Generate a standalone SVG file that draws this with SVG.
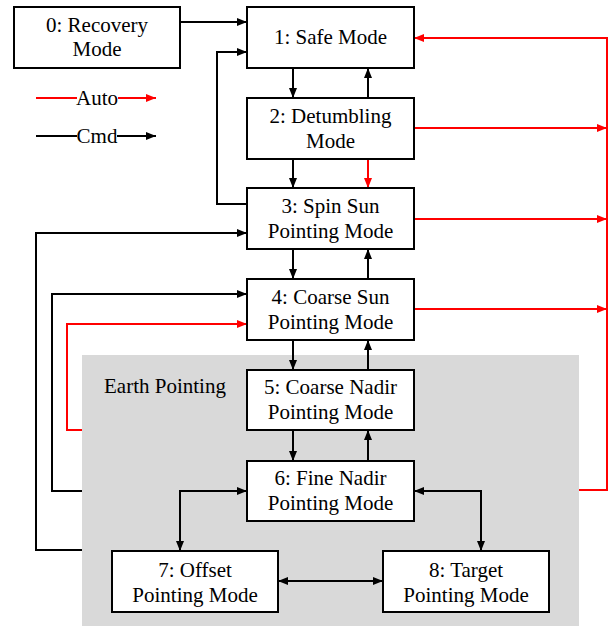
<svg xmlns="http://www.w3.org/2000/svg" width="614" height="626" viewBox="0 0 614 626">
<style>
.box{fill:#fff;stroke:#000;stroke-width:2}
.t{font-family:'Liberation Serif','Times New Roman','DejaVu Serif',serif;font-size:21px;fill:#000;text-anchor:middle}
.k{fill:none;stroke:#000;stroke-width:2}
.r{fill:none;stroke:#f00;stroke-width:2}
</style>
<defs>
<marker id="ak" viewBox="0 0 10 8" refX="10" refY="4" markerWidth="10" markerHeight="8" markerUnits="userSpaceOnUse" orient="auto-start-reverse"><path d="M0,0 L10,4 L0,8 z" fill="#000"/></marker>
<marker id="ar" viewBox="0 0 10 8" refX="10" refY="4" markerWidth="10" markerHeight="8" markerUnits="userSpaceOnUse" orient="auto-start-reverse"><path d="M0,0 L10,4 L0,8 z" fill="#f00"/></marker>
</defs>
<rect width="614" height="626" fill="#fff"/>
<g id="earth-pointing">
<rect x="82" y="355" width="497" height="271" fill="#d9d9d9"/>
<text x="104" y="393" class="t" font-family="Liberation Serif, serif" style="text-anchor:start">Earth Pointing</text>
</g>
<g id="connectors">
<path class="k" d="M180,22 H247" marker-end="url(#ak)"/>
<path class="k" d="M247,204 H217 V52 H247" marker-end="url(#ak)"/>
<path class="k" d="M293,68 V98" marker-end="url(#ak)"/>
<path class="k" d="M368,98 V68" marker-end="url(#ak)"/>
<path class="k" d="M293,159 V188" marker-end="url(#ak)"/>
<path class="r" d="M368,159 V188" marker-end="url(#ar)"/>
<path class="k" d="M293,249 V279" marker-end="url(#ak)"/>
<path class="k" d="M368,279 V249" marker-end="url(#ak)"/>
<path class="k" d="M293,340 V370" marker-end="url(#ak)"/>
<path class="k" d="M368,370 V340" marker-end="url(#ak)"/>
<path class="k" d="M293,430 V461" marker-end="url(#ak)"/>
<path class="k" d="M368,461 V430" marker-end="url(#ak)"/>
<path class="r" d="M579,490 H607 V38 H414" marker-end="url(#ar)"/>
<path class="r" d="M414,128 H607" marker-end="url(#ar)"/>
<path class="r" d="M414,219 H607" marker-end="url(#ar)"/>
<path class="r" d="M414,309 H607" marker-end="url(#ar)"/>
<path class="k" d="M82,550 H36 V233 H247" marker-end="url(#ak)"/>
<path class="k" d="M82,491 H52 V294 H247" marker-end="url(#ak)"/>
<path class="r" d="M82,430 H67 V324 H247" marker-end="url(#ar)"/>
<path class="k" d="M247,491 H180 V551" marker-start="url(#ak)" marker-end="url(#ak)"/>
<path class="k" d="M414,491 H481 V551" marker-start="url(#ak)" marker-end="url(#ak)"/>
<path class="k" d="M278,581 H383" marker-start="url(#ak)" marker-end="url(#ak)"/>
</g>
<g id="legend">
<path class="r" d="M36,98 H77"/>
<path class="r" d="M118,98 H156" marker-end="url(#ar)"/>
<text x="97" y="105" class="t">Auto</text>
<path class="k" d="M36,136 H77"/>
<path class="k" d="M117,136 H156" marker-end="url(#ak)"/>
<text x="97" y="143" class="t">Cmd</text>
</g>
<g id="n0"><rect class="box" x="14" y="7" width="166" height="61"/><text class="t" x="97" y="32">0: Recovery</text><text class="t" x="97" y="56">Mode</text></g>
<g id="n1"><rect class="box" x="247" y="7" width="167" height="61"/><text class="t" x="330.5" y="44">1: Safe Mode</text></g>
<g id="n2"><rect class="box" x="247" y="98" width="167" height="61"/><text class="t" x="330.5" y="123">2: Detumbling</text><text class="t" x="330.5" y="148">Mode</text></g>
<g id="n3"><rect class="box" x="247" y="188" width="167" height="61"/><text class="t" x="330.5" y="213">3: Spin Sun</text><text class="t" x="330.5" y="238">Pointing Mode</text></g>
<g id="n4"><rect class="box" x="247" y="279" width="167" height="61"/><text class="t" x="330.5" y="304">4: Coarse Sun</text><text class="t" x="330.5" y="329">Pointing Mode</text></g>
<g id="n5"><rect class="box" x="247" y="370" width="167" height="60"/><text class="t" x="330.5" y="394">5: Coarse Nadir</text><text class="t" x="330.5" y="419">Pointing Mode</text></g>
<g id="n6"><rect class="box" x="247" y="461" width="167" height="60"/><text class="t" x="330.5" y="485">6: Fine Nadir</text><text class="t" x="330.5" y="510">Pointing Mode</text></g>
<g id="n7"><rect class="box" x="112" y="551" width="166" height="61"/><text class="t" x="195" y="577">7: Offset</text><text class="t" x="195" y="602">Pointing Mode</text></g>
<g id="n8"><rect class="box" x="383" y="551" width="166" height="61"/><text class="t" x="466" y="577">8: Target</text><text class="t" x="466" y="602">Pointing Mode</text></g>
</svg>
